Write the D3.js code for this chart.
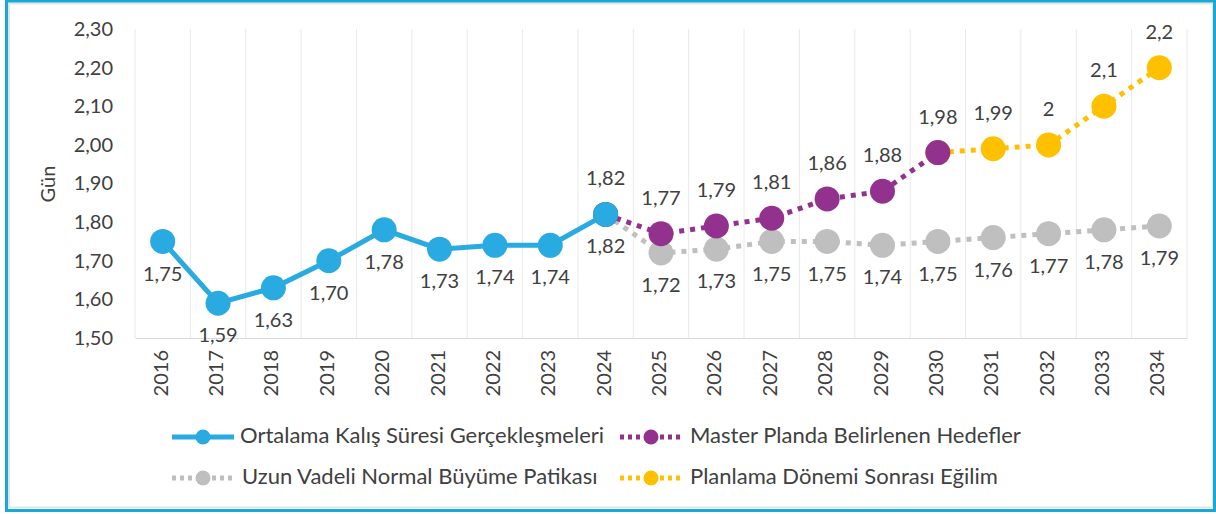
<!DOCTYPE html>
<html>
<head>
<meta charset="utf-8">
<script src="https://cdn.jsdelivr.net/npm/d3@7"></script>
<style>
  html, body { margin: 0; padding: 0; background: #fff; }
  svg text { font-family: Lato, "Open Sans", sans-serif; fill: #404040; }
</style>
</head>
<body>
<div id="plot"></div>
<script>
const width = 1216;
const height = 514;

// ----- DATA ------------------------//
const years = ["2016","2017","2018","2019","2020","2021","2022","2023","2024","2025",
  "2026","2027","2028","2029","2030","2031","2032","2033","2034"];
const yTicks = [1.5, 1.6, 1.7, 1.8, 1.9, 2.0, 2.1, 2.2, 2.3];

const actualYears = years.slice(0, 9);
const actualVals = [1.75, 1.59, 1.63, 1.70, 1.78, 1.73, 1.74, 1.74, 1.82];

const targetYears = years.slice(8, 15);
const targetVals = [1.82, 1.77, 1.79, 1.81, 1.86, 1.88, 1.98];

const normalYears = years.slice(8);
const normalVals = [1.82, 1.72, 1.73, 1.75, 1.75, 1.74, 1.75, 1.76, 1.77, 1.78, 1.79];

const trendYears = years.slice(14);
const trendVals = [1.98, 1.99, 2.00, 2.10, 2.20];

const seriesNames = ["Ortalama Kalış Süresi Gerçekleşmeleri", "Master Planda Belirlenen Hedefler",
  "Uzun Vadeli Normal Büyüme Patikası", "Planlama Dönemi Sonrası Eğilim"];

// ----- SETUP ------------------------//
const plotLeft = 135, plotRight = 1187, plotTop = 29, plotBottom = 338;

const locale = d3.formatLocale({decimal: ",", thousands: ".", grouping: [3], currency: ["", ""]});
const f2 = locale.format(".2f");
const fTrim = locale.format(".2~f");

const svg = d3.select("#plot").append("svg")
    .attr("width", width)
    .attr("height", height);

// frame
svg.append("rect")
    .attr("x", 9).attr("y", 3.5)
    .attr("width", 1204).attr("height", 504)
    .attr("fill", "none").attr("stroke", "#e4e4e4").attr("stroke-width", 2);
svg.append("rect")
    .attr("x", 6.5).attr("y", 1)
    .attr("width", 1208).attr("height", 509.5)
    .attr("fill", "none").attr("stroke", "#18a9d4").attr("stroke-width", 3);

const xScl = d3.scaleBand().domain(years).range([plotLeft, plotRight]).padding(0);
const yScl = d3.scaleLinear().domain([1.5, 2.3]).range([plotBottom, plotTop]);
const cx = d => xScl(d.year) + xScl.bandwidth() / 2;

// vertical gridlines
svg.append("g")
    .selectAll("line")
    .data(years.concat(["end"]))
    .enter()
    .append("line")
    .attr("x1", (d, i) => plotLeft + i * xScl.bandwidth())
    .attr("x2", (d, i) => plotLeft + i * xScl.bandwidth())
    .attr("y1", plotTop)
    .attr("y2", plotBottom)
    .attr("stroke", "#e9e9e9")
    .attr("stroke-width", 1);

// axes
const yAxis = d3.axisLeft(yScl)
    .tickValues(yTicks)
    .tickFormat(f2)
    .tickSize(0)
    .tickPadding(22);

const yG = svg.append("g")
    .attr("transform", "translate(" + plotLeft + ",0)")
    .call(yAxis);
yG.select(".domain").remove();
yG.selectAll("text").style("font-size", "20px").attr("fill", "#404040");

const xAxis = d3.axisBottom(xScl).tickSize(0);
const xG = svg.append("g")
    .attr("transform", "translate(0," + plotBottom + ")")
    .call(xAxis);
xG.select(".domain").attr("stroke", "#d9d9d9");
xG.selectAll("text")
    .style("font-size", "20px")
    .attr("fill", "#404040")
    .attr("text-anchor", "end")
    .attr("dy", null)
    .attr("dominant-baseline", "middle")
    .attr("transform", "translate(0,12) rotate(-90)")
    .attr("x", 0).attr("y", 0);

svg.append("text")
    .attr("transform", "translate(50,184) rotate(-90)")
    .attr("text-anchor", "middle")
    .attr("dominant-baseline", "middle")
    .style("font-size", "20px")
    .text("Gün");

// ----- SERIES ------------------------//
const zip = (ys, vs) => ys.map((y, i) => ({year: y, val: vs[i]}));

const series = [
  {data: zip(normalYears, normalVals), color: "#bfbfbf", dash: "5,6", labelDy: 34, fmt: f2, skip: 1},
  {data: zip(trendYears, trendVals), color: "#ffc000", dash: "5,6", labelDy: -34, fmt: fTrim, skip: 1},
  {data: zip(targetYears, targetVals), color: "#93328e", dash: "5,6", labelDy: -34, fmt: f2, skip: 0},
  {data: zip(actualYears, actualVals), color: "#29abe2", dash: null, labelDy: 34, fmt: f2, skip: 0}
];

const line = d3.line()
    .x(cx)
    .y(d => yScl(d.val));

const lines = svg.selectAll("g.serie")
    .data(series)
    .enter()
    .append("g")
    .attr("class", "serie");

lines.append("path")
    .attr("d", d => line(d.data))
    .attr("fill", "none")
    .attr("stroke", d => d.color)
    .attr("stroke-width", 5)
    .attr("stroke-dasharray", d => d.dash);

lines.each(function (s) {
  d3.select(this).selectAll("circle")
      .data(s.data)
      .enter()
      .append("circle")
      .attr("cx", cx)
      .attr("cy", d => yScl(d.val))
      .attr("r", 12.5)
      .attr("fill", s.color);
});

// labels on top
series.forEach(function (s) {
  svg.append("g").selectAll("text")
      .data(s.data.slice(s.skip))
      .enter()
      .append("text")
      .attr("x", cx)
      .attr("y", d => yScl(d.val) + s.labelDy)
      .attr("text-anchor", "middle")
      .attr("dominant-baseline", "middle")
      .style("font-size", "20px")
      .text(d => s.fmt(d.val));
});

// ----- LEGEND ------------------------//
const legendItems = [
  {name: seriesNames[0], color: "#29abe2", dash: null, x: 172, tx: 240, y: 437},
  {name: seriesNames[1], color: "#93328e", dash: "4,4", x: 620, tx: 690, y: 437},
  {name: seriesNames[2], color: "#bfbfbf", dash: "4,4", x: 172, tx: 242, y: 478},
  {name: seriesNames[3], color: "#ffc000", dash: "4,4", x: 620, tx: 690, y: 478}
];

const legend = svg.selectAll("g.legend")
    .data(legendItems)
    .enter()
    .append("g")
    .attr("class", "legend");

legend.append("line")
    .attr("x1", d => d.x)
    .attr("x2", d => d.x + 62)
    .attr("y1", d => d.y)
    .attr("y2", d => d.y)
    .attr("stroke", d => d.color)
    .attr("stroke-width", 5)
    .attr("stroke-dasharray", d => d.dash);

legend.append("circle")
    .attr("cx", d => d.x + 31)
    .attr("cy", d => d.y)
    .attr("r", 7.5)
    .attr("fill", d => d.color);

legend.append("text")
    .attr("x", d => d.tx)
    .attr("y", d => d.y)
    .attr("dominant-baseline", "middle")
    .style("font-size", "22px")
    .text(d => d.name);
</script>
</body>
</html>
